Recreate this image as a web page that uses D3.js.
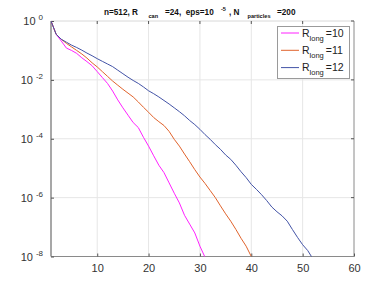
<!DOCTYPE html>
<html><head><meta charset="utf-8">
<script src="https://cdn.jsdelivr.net/npm/d3@7"></script>
<style>
html,body{margin:0;padding:0;background:#fff;}
svg{display:block;font-family:"Liberation Sans",Arial,Helvetica,sans-serif;}
</style></head>
<body><svg id="c" width="392" height="288"></svg>
<script>
// log10 of the values, at x = 1, 2, 3, ...
const logR10 = [0,-0.45,-0.68,-0.92,-1.0,-1.10,-1.25,-1.38,-1.52,-1.72,-1.92,-2.12,-2.38,-2.68,-2.95,-3.20,-3.45,-3.62,-3.95,-4.25,-4.58,-4.90,-5.15,-5.50,-5.85,-6.18,-6.60,-6.90,-7.20,-7.65,-8.03];
const logR11 = [0,-0.45,-0.62,-0.76,-0.88,-1.0,-1.12,-1.26,-1.42,-1.56,-1.72,-1.88,-2.04,-2.18,-2.32,-2.45,-2.58,-2.75,-2.93,-3.10,-3.28,-3.42,-3.55,-3.75,-4.02,-4.25,-4.52,-4.78,-5.05,-5.30,-5.52,-5.76,-6.00,-6.28,-6.55,-6.80,-7.08,-7.38,-7.65,-8.0];
const logR12 = [0,-0.45,-0.62,-0.72,-0.82,-0.90,-0.99,-1.09,-1.18,-1.28,-1.37,-1.46,-1.55,-1.67,-1.79,-1.91,-2.02,-2.12,-2.24,-2.37,-2.47,-2.58,-2.70,-2.82,-2.95,-3.08,-3.22,-3.38,-3.52,-3.68,-3.86,-4.02,-4.20,-4.36,-4.55,-4.70,-4.90,-5.12,-5.32,-5.55,-5.72,-5.90,-6.10,-6.32,-6.48,-6.62,-6.80,-7.08,-7.35,-7.60,-7.80,-8.08];
const seriesNames = ["10","11","12"];
const seriesColors = ["#ff20ff","#e0632c","#4353a6"];
const xTicks = [10,20,30,40,50,60];
const yTickExps = [0,-2,-4,-6,-8];

const svg = d3.select("#c");
const L=51, R=354, T=21, B=256.5;
const x = d3.scaleLinear().domain([1,60]).range([L,R]);
const y = d3.scaleLog().domain([1e-8,1]).range([B,T]);

const defs = svg.append("defs");
defs.append("clipPath").attr("id","clip").append("rect")
  .attr("x",L).attr("y",T).attr("width",R-L).attr("height",B-T);

// grid
svg.append("g").selectAll("line").data(xTicks.slice(0,-1)).join("line")
  .attr("x1",d=>x(d)).attr("x2",d=>x(d)).attr("y1",T).attr("y2",B)
  .attr("stroke","#e6e6e6").attr("stroke-width",1);
svg.append("g").selectAll("line").data(yTickExps.slice(1,-1)).join("line")
  .attr("x1",L).attr("x2",R).attr("y1",d=>y(Math.pow(10,d))).attr("y2",d=>y(Math.pow(10,d)))
  .attr("stroke","#e6e6e6").attr("stroke-width",1);

// top / right box
svg.append("line").attr("x1",L).attr("x2",R).attr("y1",T).attr("y2",T).attr("stroke","#d8d8d8");
svg.append("line").attr("x1",R).attr("x2",R).attr("y1",T).attr("y2",B).attr("stroke","#8a8a8a");
svg.append("g").selectAll("line").data(xTicks.slice(0,-1)).join("line")
  .attr("x1",d=>x(d)).attr("x2",d=>x(d)).attr("y1",T).attr("y2",T+3).attr("stroke","#555");
svg.append("g").selectAll("line").data(yTickExps.slice(0,-1)).join("line")
  .attr("x1",R-3).attr("x2",R).attr("y1",d=>y(Math.pow(10,d))).attr("y2",d=>y(Math.pow(10,d))).attr("stroke","#555");

// bottom axis
const gx = svg.append("g").attr("transform",`translate(0,${B})`)
  .call(d3.axisBottom(x).tickValues(xTicks).tickSize(-3).tickPadding(8).tickFormat(d3.format("d")));
gx.select(".domain").attr("stroke","#8a8a8a").attr("d",`M${L},0H${R}`);
gx.selectAll(".tick line").attr("stroke","#555");
gx.selectAll(".tick text").attr("font-size","11px").attr("fill","#333")
  .attr("font-family","Liberation Sans, Arial, sans-serif");

// left axis
const gy = svg.append("g").attr("transform",`translate(${L},0)`)
  .call(d3.axisLeft(y).tickValues(yTickExps.map(e=>Math.pow(10,e))).tickSize(-3).tickPadding(7).tickFormat(""));
gy.select(".domain").attr("stroke","#8a8a8a").attr("stroke-width",1.5).attr("d",`M0,${T}V${B}`);
gy.selectAll(".tick line").attr("stroke","#555");
gy.selectAll(".tick").each(function(d){
  const e = Math.round(Math.log10(d));
  const t = d3.select(this).append("text").attr("x",-8).attr("y",3.5)
    .attr("text-anchor","end").attr("fill","#333").attr("font-size","11px")
    .attr("font-family","Liberation Sans, Arial, sans-serif");
  t.append("tspan").text("10");
  t.append("tspan").attr("dx",3).attr("dy",-5).attr("font-size","8px").text(String(e));
});

// lines
const line = d3.line().x((d,i)=>x(i+1)).y(d=>y(Math.pow(10,d)));
const allSeries = [logR10, logR11, logR12];
svg.append("g").attr("clip-path","url(#clip)").selectAll("path").data(allSeries).join("path")
  .attr("d",line).attr("fill","none")
  .attr("stroke",(d,i)=>seriesColors[i]).attr("stroke-width",1);

// legend
const lg = svg.append("g");
lg.append("rect").attr("x",277.5).attr("y",26.5).attr("width",72).attr("height",52)
  .attr("fill","#fff").attr("stroke","#9a9a9a");
seriesNames.forEach((n,i)=>{
  const yy = 33 + i*17.3;
  lg.append("line").attr("x1",281).attr("x2",299).attr("y1",yy).attr("y2",yy)
    .attr("stroke",seriesColors[i]).attr("stroke-width",1);
  const t = lg.append("text").attr("x",302).attr("y",yy+3.5).attr("font-size","10.5px").attr("fill","#222");
  t.append("tspan").text("R");
  t.append("tspan").attr("dy",4).attr("font-size","7.5px").text("long");
  t.append("tspan").attr("dx",2).attr("dy",-4).text("="+n);
});

// title
const title = svg.append("text").attr("y",14.5).attr("font-size","8.2px").attr("font-weight","bold")
  .attr("fill","#111").style("white-space","pre");
title.append("tspan").attr("x",104).text("n=512, R");
title.append("tspan").attr("x",148.5).attr("dy",3.5).attr("font-size","5.6px").text("can");
title.append("tspan").attr("x",165).attr("dy",-3.5).text("=24,  eps=10");
title.append("tspan").attr("x",221).attr("dy",-4).attr("font-size","5.6px").text("-5");
title.append("tspan").attr("x",229).attr("dy",4).text(", N");
title.append("tspan").attr("x",247.5).attr("dy",3.5).attr("font-size","5.6px").text("particles");
title.append("tspan").attr("x",277).attr("dy",-3.5).text("=200");
</script></body></html>
